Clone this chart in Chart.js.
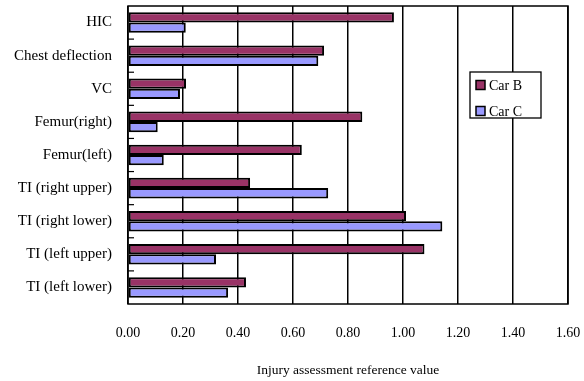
<!DOCTYPE html>
<html>
<head>
<meta charset="utf-8">
<script src="https://cdn.jsdelivr.net/npm/chart.js@4"></script>
<style>
  html, body { margin: 0; padding: 0; background: #fff; }
  #wrap { width: 584px; height: 381px; position: relative; }
</style>
</head>
<body>
<div id="wrap"><canvas id="c"></canvas></div>
<script>
const categories = [
  'HIC', 'Chest deflection', 'VC', 'Femur(right)', 'Femur(left)',
  'TI (right upper)', 'TI (right lower)', 'TI (left upper)', 'TI (left lower)'
];
const carB = [0.967, 0.713, 0.211, 0.852, 0.632, 0.444, 1.011, 1.078, 0.429];
const carC = [0.210, 0.692, 0.189, 0.108, 0.130, 0.728, 1.143, 0.320, 0.364];
const xTicks = [0, 0.2, 0.4, 0.6, 0.8, 1.0, 1.2, 1.4, 1.6];

const FONT = "'Liberation Serif', 'Times New Roman', serif";

function noEdgePadding(s) {
  s.paddingTop = 0; s.paddingBottom = 0; s.paddingLeft = 0; s.paddingRight = 0;
}

// Short inward marks on the category axis, the frame, and a boxed legend
const decor = {
  id: 'decor',
  afterDatasetsDraw(chart) {
    const { ctx, chartArea: a, scales: { y } } = chart;
    ctx.save();
    ctx.strokeStyle = '#000';
    ctx.lineWidth = 1.5;
    ctx.strokeRect(a.left, a.top, a.right - a.left, a.bottom - a.top);
    ctx.lineWidth = 1.2;
    for (let i = 0; i < categories.length - 1; i++) {
      const yy = (y.getPixelForValue(i) + y.getPixelForValue(i + 1)) / 2;
      ctx.beginPath();
      ctx.moveTo(a.left, yy);
      ctx.lineTo(a.left + 6, yy);
      ctx.stroke();
    }
    // legend
    const lx = 470, ly = 72, lw = 71, lh = 46;
    ctx.fillStyle = '#fff';
    ctx.fillRect(lx, ly, lw, lh);
    ctx.lineWidth = 1.3;
    ctx.strokeRect(lx, ly, lw, lh);
    ctx.font = '14px ' + FONT;
    ctx.textBaseline = 'middle';
    chart.data.datasets.forEach((ds, i) => {
      const cy = ly + 13 + i * 26;
      ctx.fillStyle = ds.backgroundColor;
      ctx.fillRect(lx + 6, cy - 4.5, 9, 9);
      ctx.strokeStyle = '#000';
      ctx.lineWidth = 1.5;
      ctx.strokeRect(lx + 6, cy - 4.5, 9, 9);
      ctx.fillStyle = '#000';
      ctx.fillText(ds.label, lx + 19, cy + 1);
    });
    ctx.restore();
  }
};

new Chart(document.getElementById('c'), {
  type: 'bar',
  data: {
    labels: categories,
    datasets: [
      { label: 'Car B', data: carB, backgroundColor: '#993366', borderColor: '#000', borderWidth: 2, borderSkipped: false },
      { label: 'Car C', data: carC, backgroundColor: '#9999FF', borderColor: '#000', borderWidth: 2, borderSkipped: false }
    ]
  },
  options: {
    indexAxis: 'y',
    responsive: true,
    maintainAspectRatio: false,
    animation: false,
    layout: { padding: { top: 6, right: 16, left: 0, bottom: 0 } },
    plugins: { legend: { display: false }, tooltip: { enabled: false } },
    datasets: { bar: { categoryPercentage: 0.62, barPercentage: 1.0 } },
    scales: {
      x: {
        min: 0, max: 1.6,
        afterBuildTicks(s) { s.ticks = xTicks.map(v => ({ value: v })); },
        afterFit(s) { s.height = 77; noEdgePadding(s); },
        grid: { color: '#000', lineWidth: 1.5, drawTicks: false },
        border: { display: false },
        ticks: {
          padding: 21,
          color: '#000',
          font: { family: FONT, size: 14 },
          callback: v => Number(v).toFixed(2)
        },
        title: {
          display: true,
          text: 'Injury assessment reference value',
          color: '#000',
          font: { family: FONT, size: 13.5 },
          padding: { top: 0, bottom: 2 }
        }
      },
      y: {
        afterFit(s) { s.width = 128; noEdgePadding(s); },
        grid: { display: false, drawTicks: false },
        border: { display: false },
        ticks: {
          padding: 16,
          color: '#000',
          font: { family: FONT, size: 15 }
        }
      }
    }
  },
  plugins: [decor]
});
</script>
</body>
</html>
